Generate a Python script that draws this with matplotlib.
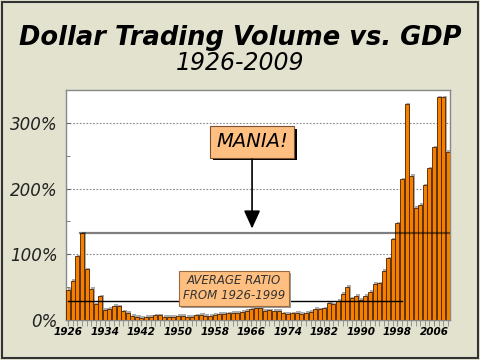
import matplotlib
matplotlib.use("Agg")
import matplotlib.pyplot as plt
import matplotlib.patheffects as pe
from matplotlib.patches import Rectangle
import numpy as np

# ratio of dollar trading volume to GDP, % (1926-2009)
years = np.arange(1926, 2010)
ratio = [46, 60, 97, 132, 77, 47, 24, 36, 15, 17,
         22, 21, 13, 11, 6, 5, 3, 4.5, 5, 7,
         7, 4.5, 4.5, 5, 6, 6, 5, 5, 7, 7.6,
         6, 6, 8, 9, 9.6, 10, 11, 10.6, 12, 13.7,
         16, 19, 18, 13.7, 14.7, 14, 13.7, 10, 9, 10,
         10.7, 9, 11, 12, 17, 16, 18, 26, 24, 29,
         40, 50, 33, 36.5, 31, 37, 43, 55, 56, 75,
         94, 123, 147, 214, 328, 219, 171, 175, 205, 231,
         263, 339, 339, 256]
avg_ratio = 29      # average 1926-1999
mania_level = 132   # 1929 peak
tick_years = np.arange(1926, 2010, 8)

bg = "#E2E2CF"
fig = plt.figure(figsize=(4.8, 3.6), dpi=100, facecolor=bg)
fig.patches.append(Rectangle((0.005, 0.006), 0.99, 0.988, transform=fig.transFigure,
                             fill=False, edgecolor="#333333", lw=1.5))
ax = fig.add_axes([0.1375, 0.1111, 0.8, 0.6389])
ax.set_facecolor("white")

fig.text(0.5, 0.895, "Dollar Trading Volume vs. GDP", ha="center", va="center",
         fontsize=18.5, fontweight="bold", fontstyle="italic")
fig.text(0.5, 0.826, "1926-2009", ha="center", va="center",
         fontsize=17, fontstyle="italic")

bars = ax.bar(years, ratio, width=0.9, color="#F77F00", edgecolor="#4a2300",
              linewidth=0.6, zorder=3)
for b in bars:
    b.set_path_effects([pe.withSimplePatchShadow(offset=(1.2, 1.2), shadow_rgbFace="#888888", alpha=0.7)])

# reference lines
ax.plot([1926, 1999], [avg_ratio, avg_ratio], color="black", lw=1, zorder=4)
ax.plot([1928.5, 2009.5], [mania_level, mania_level], color="black", alpha=0.5, lw=1.6, zorder=4)

t1 = ax.text(1966.2, 271, "MANIA!", ha="center", va="center", fontsize=14, fontstyle="italic",
             zorder=6, bbox=dict(boxstyle="square,pad=0.32", fc="#FFBF80", ec="#7a5030", lw=0.8))
t1.get_bbox_patch().set_path_effects([pe.withSimplePatchShadow(offset=(2, -2), shadow_rgbFace="black", alpha=1)])
ax.annotate("", xy=(1966.2, 135), xytext=(1966.2, 249),
            arrowprops=dict(arrowstyle="-|>,head_length=1.1,head_width=0.5", color="black", lw=1.2),
            zorder=6)

t2 = ax.text(1962.3, 48.5, "AVERAGE RATIO\nFROM 1926-1999", ha="center", va="center", fontsize=8.5,
             fontstyle="italic", color="#333333", linespacing=1.15, zorder=6,
             bbox=dict(boxstyle="square,pad=0.32", fc="#FFBF80", ec="#9a6a40", lw=0.8))
t2.get_bbox_patch().set_path_effects([pe.withSimplePatchShadow(offset=(1.5, -1.5), shadow_rgbFace="#999999", alpha=1)])

ax.set_xlim(1925.5, 2009.5)
ax.set_ylim(0, 350)
ax.set_yticks([0, 100, 200, 300])
ax.set_yticklabels(["0%", "100%", "200%", "300%"])
ax.set_yticks([50, 150, 250, 350], minor=True)
ax.set_xticks(tick_years)
ax.set_xticklabels([str(y) for y in tick_years])
ax.set_xticks(years, minor=True)
ax.grid(axis="y", which="major", linestyle=(0, (1.5, 1.5)), color="#888888", lw=0.8, zorder=0)

for lab in ax.get_yticklabels():
    lab.set_fontstyle("italic")
    lab.set_fontsize(12)
    lab.set_color("#222222")
for lab in ax.get_xticklabels():
    lab.set_fontstyle("italic")
    lab.set_fontweight("bold")
    lab.set_fontsize(7.5)

ax.tick_params(axis="y", which="both", direction="in", length=3, color="#666666", pad=6)
ax.tick_params(axis="x", which="both", direction="out", length=4, color="#888888", pad=1)
for s in ax.spines.values():
    s.set_color("#888888")
    s.set_linewidth(1)

fig.savefig("out.png", dpi=100, facecolor=bg)
